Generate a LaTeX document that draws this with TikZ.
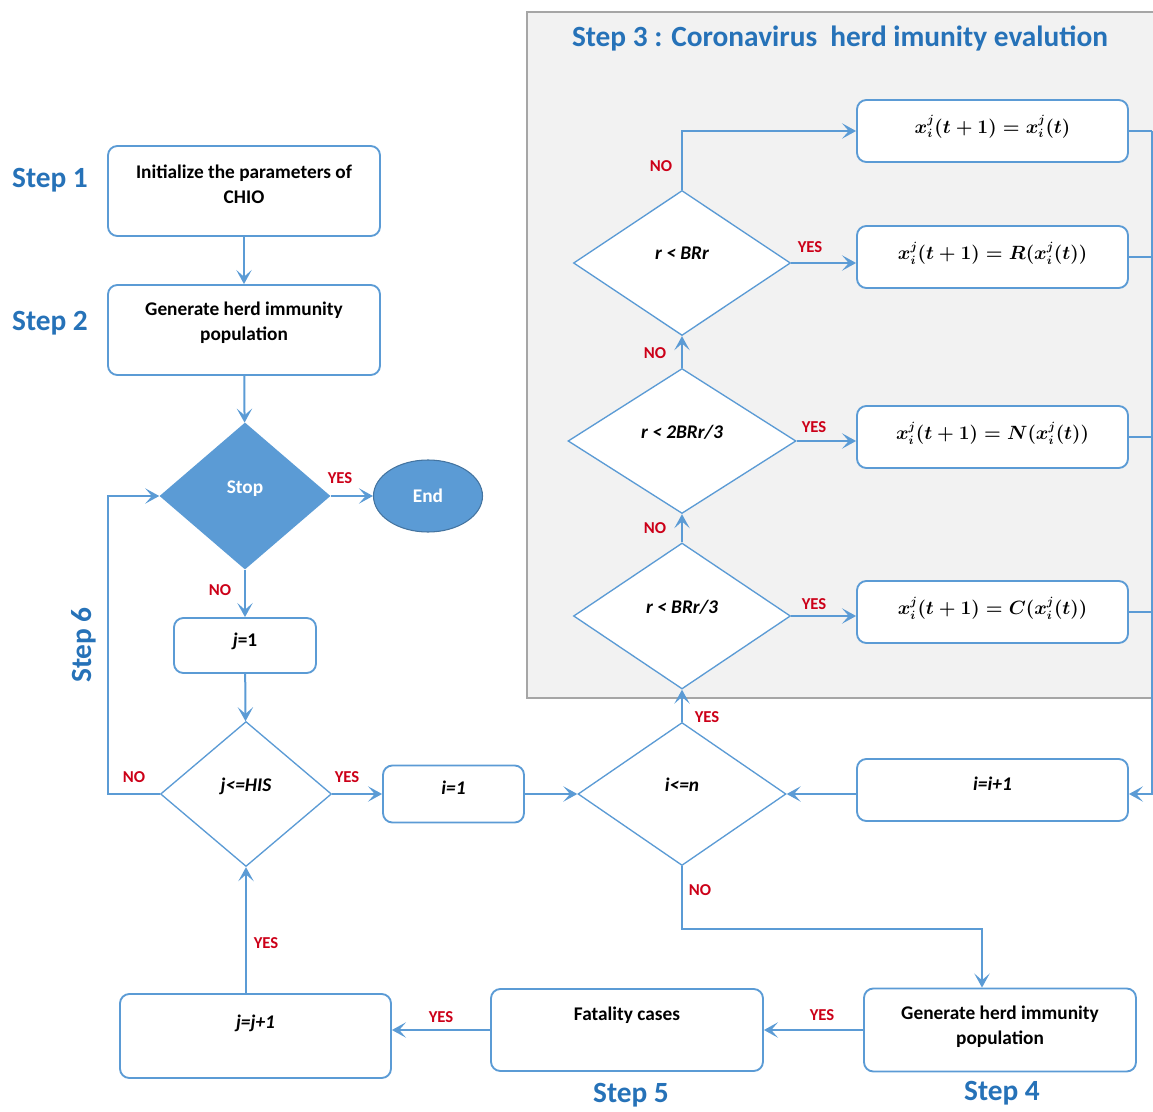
\documentclass[tikz,border=0pt]{standalone}
\usepackage{fontspec}
\usepackage{amsmath}
\setmainfont{Carlito}
\usetikzlibrary{arrows.meta,positioning,shapes.geometric,calc}
\definecolor{flowline}{RGB}{91,155,213}
\definecolor{stepblue}{RGB}{38,114,184}
\definecolor{yesno}{RGB}{204,0,24}
\definecolor{panelbg}{RGB}{242,242,242}
\definecolor{panelline}{RGB}{166,166,166}
\tikzset{
  box/.style     ={rectangle, rounded corners=7pt, draw=flowline, line width=1.4pt,
                   fill=white, align=center, inner sep=2pt,
                   font=\fontsize{14.5}{18.5}\selectfont\bfseries,
                   minimum width=204pt, minimum height=46.5pt},
  formula/.style ={box, font=\fontsize{13.5}{16}\selectfont\boldmath, text depth=9pt},
  decide/.style  ={diamond, draw=flowline, line width=1pt, fill=white, inner sep=0pt,
                   text depth=14pt, font=\fontsize{14.5}{18}\selectfont\bfseries\itshape},
  steplbl/.style ={font=\fontsize{22}{26}\selectfont\bfseries, text=stepblue},
  lbl/.style     ={font=\fontsize{12.5}{14}\selectfont\bfseries, text=yesno, inner sep=1pt},
  flow/.style    ={-{Stealth[length=10.5pt,width=11.5pt,inset=5pt]}, draw=flowline, line width=1.5pt},
  link/.style    ={draw=flowline, line width=1.5pt},
  panel/.style   ={fill=panelbg, draw=panelline, line width=1.5pt},
}

\begin{document}
\begin{tikzpicture}[x=0.75pt, y=-0.75pt]
    \useasboundingbox (0,0) rectangle (1153,1112);

    % step 3 panel
    \draw[panel] (527,12) rectangle (1160,698);
    \node[steplbl] (title) at (840,38) {Step 3 : Coronavirus\ \ herd imunity evalution};

    % steps 1 and 2
    \node[box, minimum height=67.5pt, text depth=10pt] (init) at (244,191)
        {Initialize the parameters of\\CHIO};
    \node[box, minimum height=67.5pt, text depth=13pt] (gen) at (244,330)
        {Generate herd immunity\\population};
    \node[steplbl] (s1) at (50,180) {Step 1};
    \node[steplbl] (s2) at (50,323) {Step 2};

    \node[diamond, fill=flowline, inner sep=0pt, text depth=14pt, text=white,
          font=\fontsize{14.5}{18}\selectfont\bfseries,
          minimum width=128.25pt, minimum height=110.25pt] (stop) at (245,496) {Stop};
    \node[ellipse, fill=flowline, draw=flowline!75!black, line width=0.8pt, text=white,
          font=\fontsize{14.5}{18}\selectfont\bfseries,
          minimum width=81.75pt, minimum height=54pt] (finish) at (428,496) {End};

    \node[box, minimum width=106.5pt, minimum height=41.25pt, text depth=8pt]
        (j1) at (245,645.5) {\itshape j\upshape=1};
    \node[decide, minimum width=128.25pt, minimum height=108.75pt] (jhis) at (246,794) {j<=HIS};
    \node[steplbl, rotate=90] (s6) at (84,645) {Step 6};

    \node[box, minimum width=105.75pt, minimum height=42.75pt, text depth=10pt]
        (i1) at (453.5,794) {\itshape i=1};
    \node[decide, minimum width=156pt, minimum height=107.25pt] (in) at (682,794) {i<=n};
    \node[box, minimum width=203.25pt, text depth=9pt] (ii) at (992.5,790) {\itshape i=i+1};

    % step 3 decisions and updates
    \node[decide, minimum width=162.75pt, minimum height=109.5pt] (rb3) at (682,616) {r < BRr/3};
    \node[decide, minimum width=171pt, minimum height=108.75pt] (r2) at (682,441) {r < 2BRr/3};
    \node[decide, minimum width=162.75pt, minimum height=108.75pt] (rb) at (682,263) {r < BRr};

    \node[formula, minimum width=203.25pt, text depth=10pt] (fx) at (992.5,131)
        {$x_i^j(t+1)=x_i^j(t)$};
    \node[formula, minimum width=203.25pt] (fr) at (992.5,257)
        {$x_i^j(t+1)=R(x_i^j(t))$};
    \node[formula, minimum width=203.25pt] (fn) at (992.5,437)
        {$x_i^j(t+1)=N(x_i^j(t))$};
    \node[formula, minimum width=203.25pt] (fc) at (992.5,612)
        {$x_i^j(t+1)=C(x_i^j(t))$};

    % steps 4 and 5
    \node[box, minimum width=204pt, minimum height=62.25pt, text depth=7pt] (gen4) at (1000,1030)
        {Generate herd immunity\\population};
    \node[box, minimum width=204pt, minimum height=61.5pt, text depth=24pt] (fat) at (627,1030)
        {Fatality cases};
    \node[box, minimum width=203.25pt, minimum height=63pt, text depth=22pt] (jj1) at (255.5,1036)
        {\itshape j=j+1};
    \node[steplbl] (s4) at (1002,1093) {Step 4};
    \node[steplbl] (s5) at (631,1095) {Step 5};

    \coordinate (loopL) at (108,496);
    \coordinate (rail) at (1152,131);
    \coordinate (turn) at (982,929);

    % connectors
    \draw[flow] (init) -- (gen);
    \draw[flow] (gen) -- (stop);
    \draw[flow] (stop.east) -- (finish.west);
    \draw[flow] (stop) -- (j1);
    \draw[flow] (j1) -- (jhis);
    \draw[flow] (jhis.west) -| (loopL) -- (stop.west);
    \draw[flow] (jhis.east) -- (jhis.east -| i1.west);
    \draw[flow] (i1.east) -- (in.west);
    \draw[flow] (ii.west |- in.east) -- (in.east);
    \draw[flow] (in) -- (rb3);
    \draw[flow] (rb3) -- (r2);
    \draw[flow] (r2) -- (rb);
    \draw[flow] (rb.north) |- (fx.west);
    \draw[flow] (rb.east) -- (rb.east -| fr.west);
    \draw[flow] (r2.east) -- (r2.east -| fn.west);
    \draw[flow] (rb3.east) -- (rb3.east -| fc.west);
    \foreach \f in {fx,fr,fn,fc}
        \draw[link] (\f.east) -- (\f.east -| rail);
    \draw[flow] (rail) -- (rail |- in.east) -- (ii.east |- in.east);
    \draw[flow] (in.south) |- (turn) -- (turn |- gen4.north);
    \draw[flow] (gen4.west) -- (fat.east);
    \draw[flow] (fat.west) -- (fat.west -| jj1.east);
    \draw[flow] (jhis.south |- jj1.north) -- (jhis.south);

    % yes / no labels
    \node[lbl] (ystop) at (340,478) {YES};
    \node[lbl] (nstop) at (220,590) {NO};
    \node[lbl] (nhis) at (134,777) {NO};
    \node[lbl] (yhis) at (347,777) {YES};
    \node[lbl] (yjj) at (266,943) {YES};
    \node[lbl] (yin) at (707,717) {YES};
    \node[lbl] (nin) at (700,890) {NO};
    \node[lbl] (ygen) at (822,1015) {YES};
    \node[lbl] (yfat) at (441,1017) {YES};
    \node[lbl] (nb3) at (655,528) {NO};
    \node[lbl] (nr2) at (655,353) {NO};
    \node[lbl] (nrb) at (661,166) {NO};
    \node[lbl] (yrb) at (810,247) {YES};
    \node[lbl] (yr2) at (814,427) {YES};
    \node[lbl] (yb3) at (814,604) {YES};
\end{tikzpicture}
\end{document}
